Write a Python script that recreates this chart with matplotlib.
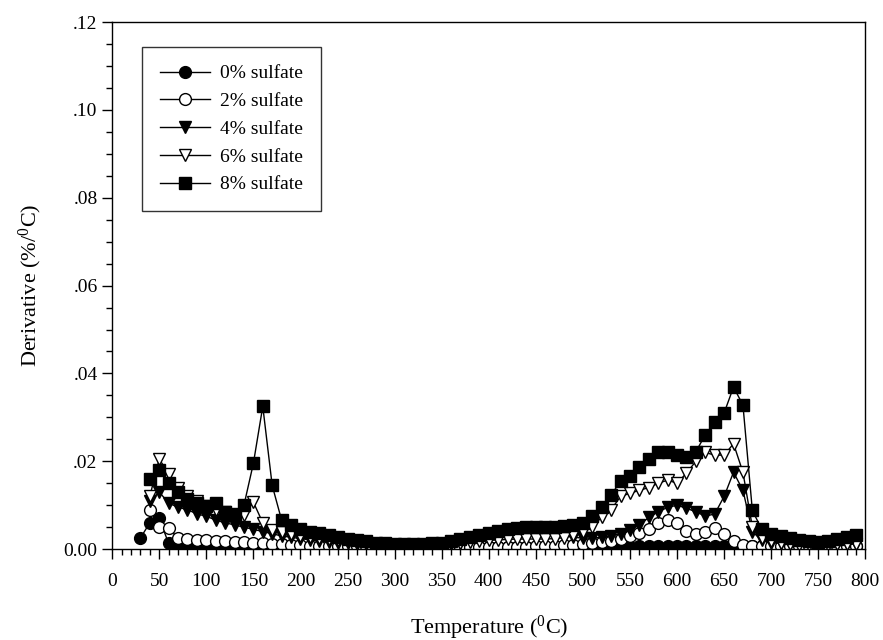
import matplotlib
matplotlib.use("Agg")
import matplotlib.pyplot as plt
import numpy as np
from matplotlib.ticker import MultipleLocator, FixedLocator

plt.rcParams['font.family'] = ['Liberation Serif', 'DejaVu Serif']
plt.rcParams['mathtext.fontset'] = 'custom'
plt.rcParams['mathtext.rm'] = 'Liberation Serif'
plt.rcParams['mathtext.it'] = 'Liberation Serif:italic'

temp0 = list(range(30, 800, 10))
temp = list(range(40, 800, 10))

s0 = [0.0025, 0.006, 0.007, 0.0013, 0.0008, 0.0006, 0.0005, 0.0005, 0.0004, 0.0004,
      0.0004, 0.0004, 0.0004, 0.0004, 0.0004, 0.0004, 0.0004, 0.0004, 0.0004, 0.0004,
      0.0004, 0.0004, 0.0004, 0.0004, 0.0004, 0.0004, 0.0004, 0.0004, 0.0004, 0.0004,
      0.0004, 0.0004, 0.0004, 0.0004, 0.0004, 0.0004, 0.0004, 0.0004, 0.0004, 0.0004,
      0.0004, 0.0004, 0.0004, 0.0004, 0.0004, 0.0004, 0.0004, 0.0004, 0.0005, 0.0005,
      0.0005, 0.0005, 0.0005, 0.0006, 0.0006, 0.0006, 0.0006, 0.0006, 0.0006, 0.0006,
      0.0006, 0.0006, 0.0006, 0.0006, 0.0006, 0.0006, 0.0006, 0.0007, 0.0007, 0.0007,
      0.0007, 0.0008, 0.0008, 0.0008, 0.0008, 0.0008, 0.0008]

s2 = [0.009, 0.005, 0.0048, 0.0025, 0.0022, 0.002, 0.002, 0.0019, 0.0018, 0.0017,
      0.0016, 0.0015, 0.0014, 0.0012, 0.0011, 0.001, 0.0009, 0.0008, 0.0008, 0.0007,
      0.0007, 0.0006, 0.0006, 0.0006, 0.0005, 0.0005, 0.0005, 0.0005, 0.0005, 0.0005,
      0.0005, 0.0005, 0.0005, 0.0005, 0.0005, 0.0005, 0.0005, 0.0005, 0.0005, 0.0005,
      0.0005, 0.0006, 0.0007, 0.0008, 0.0009, 0.001, 0.0012, 0.0014, 0.0016, 0.0018,
      0.0022, 0.003, 0.0036, 0.0045, 0.006, 0.0066, 0.006, 0.0042, 0.0035, 0.004,
      0.0047, 0.0035, 0.0018, 0.001, 0.0008, 0.0007, 0.0006, 0.0006, 0.0006, 0.0006,
      0.0006, 0.0006, 0.0006, 0.0006, 0.0006, 0.0006]

s4 = [0.011, 0.013, 0.0105, 0.0095, 0.009, 0.008, 0.0075, 0.0066, 0.006, 0.0055,
      0.005, 0.0045, 0.004, 0.0035, 0.003, 0.0027, 0.0024, 0.0021, 0.0019, 0.0017,
      0.0015, 0.0013, 0.0012, 0.0011, 0.001, 0.0009, 0.0009, 0.0009, 0.0009, 0.0009,
      0.0009, 0.001, 0.0012, 0.0015, 0.0018, 0.0022, 0.0026, 0.003, 0.0033, 0.0035,
      0.0036, 0.0036, 0.0035, 0.0033, 0.003, 0.0027, 0.0025, 0.0025, 0.0027, 0.003,
      0.0035, 0.0043, 0.0055, 0.0072, 0.0085, 0.0095, 0.010, 0.0093, 0.0085, 0.0075,
      0.008, 0.012, 0.0175, 0.0134, 0.004, 0.002, 0.0015, 0.0013, 0.0012, 0.0012,
      0.0012, 0.0012, 0.0012, 0.0012, 0.0012, 0.0012]

s6 = [0.012, 0.0205, 0.0172, 0.014, 0.012, 0.011, 0.0098, 0.009, 0.0085, 0.008,
      0.0078, 0.0107, 0.006, 0.0043, 0.004, 0.0035, 0.003, 0.0028, 0.0025, 0.0022,
      0.002, 0.0018, 0.0016, 0.0014, 0.0012, 0.0011, 0.001, 0.001, 0.001, 0.001,
      0.0011, 0.0012, 0.0013, 0.0015, 0.0017, 0.0019, 0.002, 0.0021, 0.0022, 0.0023,
      0.0023, 0.0023, 0.0023, 0.0024, 0.0026, 0.0033, 0.004, 0.005, 0.0073, 0.009,
      0.012, 0.0127, 0.0134, 0.014, 0.015, 0.0157, 0.015, 0.0173, 0.020, 0.022,
      0.0214, 0.0214, 0.024, 0.0175, 0.005, 0.0025, 0.0018, 0.0015, 0.0012, 0.001,
      0.001, 0.001, 0.001, 0.0011, 0.0011, 0.0012]

s8 = [0.016, 0.018, 0.015, 0.013, 0.0115, 0.0105, 0.0098, 0.0105, 0.0085, 0.0078,
      0.010, 0.0195, 0.0325, 0.0145, 0.0066, 0.0055, 0.0045, 0.004, 0.0036, 0.0032,
      0.0028, 0.0024, 0.002, 0.0018, 0.0015, 0.0013, 0.0012, 0.0011, 0.0011, 0.0012,
      0.0013, 0.0015, 0.0018, 0.0022, 0.0027, 0.0032, 0.0037, 0.0041, 0.0045, 0.0048,
      0.005, 0.005, 0.005, 0.005, 0.0052, 0.0055, 0.006, 0.0075, 0.0095, 0.0123,
      0.0155, 0.0167, 0.0187, 0.0205, 0.0222, 0.0222, 0.0215, 0.021, 0.0222, 0.026,
      0.029, 0.031, 0.0369, 0.0328, 0.0088, 0.0045, 0.0035, 0.003, 0.0025, 0.002,
      0.0018, 0.0017, 0.0018, 0.0022, 0.0027, 0.0032]

labels = ['0% sulfate', '2% sulfate', '4% sulfate', '6% sulfate', '8% sulfate']

fig = plt.figure(figsize=(8.83, 6.40), dpi=100)
ax = fig.add_axes([0.127, 0.142, 0.853, 0.8235])

ms = 8.5
common = dict(color='black', lw=1.0, markeredgecolor='black', markeredgewidth=1.0, markersize=ms)
ax.plot(temp0, s0, marker='o', markerfacecolor='black', label=labels[0], **common)
ax.plot(temp, s2, marker='o', markerfacecolor='white', label=labels[1], **common)
ax.plot(temp, s4, marker='v', markerfacecolor='black', label=labels[2], **common)
ax.plot(temp, s6, marker='v', markerfacecolor='white', label=labels[3], **common)
ax.plot(temp, s8, marker='s', markerfacecolor='black', label=labels[4], **common)

ax.set_xlim(0, 800)
ax.set_ylim(0, 0.12)
ax.xaxis.set_major_locator(MultipleLocator(50))
ax.xaxis.set_minor_locator(MultipleLocator(10))
ax.yaxis.set_minor_locator(MultipleLocator(0.005))
yt = [0, 0.02, 0.04, 0.06, 0.08, 0.10, 0.12]
ax.set_yticks(yt)
ax.set_yticklabels(['0.00', '.02', '.04', '.06', '.08', '.10', '.12'])
ax.tick_params(which='both', direction='out', top=False, right=False, labelsize=14, width=1.0)
ax.tick_params(which='major', length=7)
ax.tick_params(which='minor', length=4)
ax.tick_params(axis='x', pad=10)
for sp in ax.spines.values():
    sp.set_linewidth(1.0)

ax.set_xlabel(r'Temperature ($^0$C)', fontsize=16, labelpad=17)
ax.set_ylabel(r'Derivative (%/$^0$C)', fontsize=16, labelpad=14)

leg = ax.legend(loc='upper left', bbox_to_anchor=(0.04, 0.952), frameon=True, fancybox=False,
                edgecolor='black', fontsize=14, handlelength=2.6, borderpad=0.9,
                labelspacing=0.52, handletextpad=0.5, borderaxespad=0)
leg.get_frame().set_linewidth(1.0)

fig.savefig('out.png', dpi=100)
